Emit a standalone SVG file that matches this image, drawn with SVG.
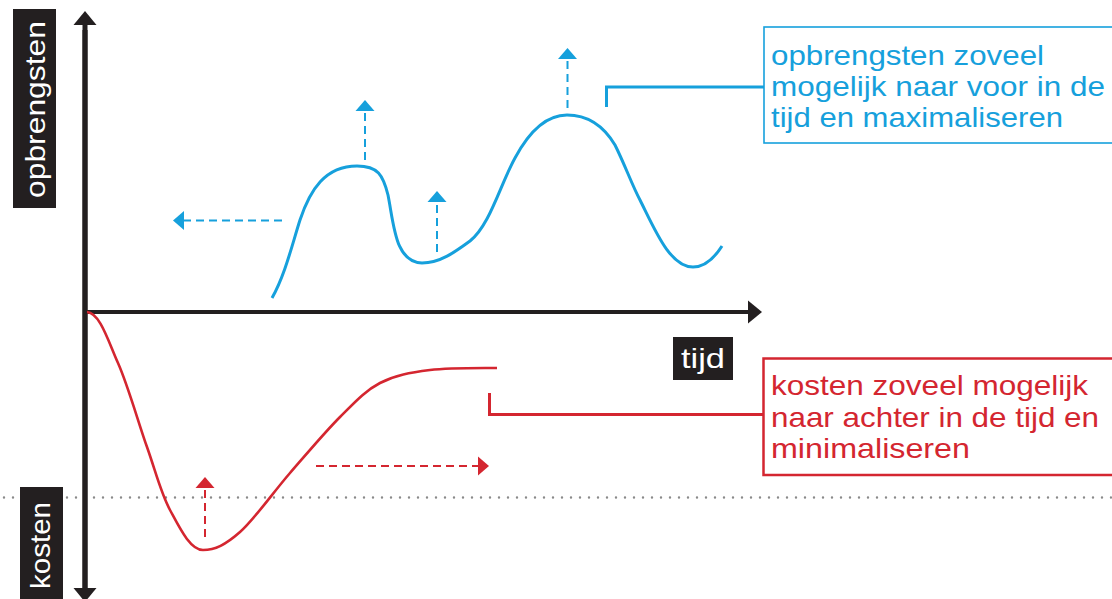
<svg xmlns="http://www.w3.org/2000/svg" width="1112" height="599" viewBox="0 0 1112 599">
<defs>
<style>
.blue{stroke:#16a0dc;fill:none}
.red{stroke:#d42630;fill:none}
.dash{stroke-width:2;stroke-dasharray:8 5}
.axis{stroke:#231f20;fill:none}
.lbl{font-family:"Liberation Sans",Arial,sans-serif;font-size:28.5px}
.tlabel{font-family:"Liberation Sans",Arial,sans-serif;font-size:28px;fill:#ffffff}
</style>
<marker id="ahB" viewBox="0 0 11 20" refX="0" refY="10" markerWidth="11" markerHeight="20" markerUnits="userSpaceOnUse" orient="auto"><path d="M0,0.5 L11,10 L0,19.5 z" fill="#16a0dc"/></marker>
<marker id="ahR" viewBox="0 0 11 20" refX="0" refY="10" markerWidth="11" markerHeight="20" markerUnits="userSpaceOnUse" orient="auto"><path d="M0,0.5 L11,10 L0,19.5 z" fill="#d42630"/></marker>
<marker id="ahK" viewBox="0 0 14 24" refX="0" refY="12" markerWidth="14" markerHeight="24" markerUnits="userSpaceOnUse" orient="auto"><path d="M0,0.5 L14,12 L0,23.5 z" fill="#231f20"/></marker>
</defs>
<rect width="1112" height="599" fill="#ffffff"/>

<!-- dotted reference line -->
<line x1="4" y1="497.5" x2="1112" y2="497.5" stroke="#8a8a8a" stroke-width="2.4" stroke-linecap="round" stroke-dasharray="0 9"/>

<g id="axis-y">
<line class="axis" x1="85" y1="588" x2="85" y2="25" stroke-width="5" marker-end="url(#ahK)"/>
<line class="axis" x1="85" y1="30" x2="85" y2="588" stroke-width="5" marker-end="url(#ahK)"/>
</g>
<g id="axis-x">
<line class="axis" x1="84" y1="312" x2="748" y2="312" stroke-width="4" marker-end="url(#ahK)"/>
</g>

<g id="label-opbrengsten">
<rect x="13" y="9" width="43" height="199" fill="#231f20"/>
<text class="tlabel" transform="translate(45,198) rotate(-90)" textLength="177" lengthAdjust="spacingAndGlyphs">opbrengsten</text>
</g>
<g id="label-kosten">
<rect x="20" y="487" width="43" height="112" fill="#231f20"/>
<text class="tlabel" transform="translate(50,589) rotate(-90)" textLength="87" lengthAdjust="spacingAndGlyphs">kosten</text>
</g>
<g id="label-tijd">
<rect x="673" y="337" width="60" height="43" fill="#231f20"/>
<text class="tlabel" x="681" y="368" textLength="44" lengthAdjust="spacingAndGlyphs">tijd</text>
</g>

<g id="curve-opbrengsten">
<path class="blue" stroke-width="3" d="M272,298 C285,275 292,245 300,220 C310,190 325,166 357,166 C378,166 383,175 388,195 C394,225 395,262 422,263 C440,263 455,252 470,241 C490,225 500,185 515,158 C530,130 548,115 567,115 C588,115 603,125 615,145 C625,165 632,185 640,200 C655,230 670,267 693,267 C706,267 715,257 722,246"/>
</g>
<g id="curve-kosten">
<path class="red" stroke-width="2.6" d="M87,312 C100,313 108,340.5 118,363 C128,385.5 138.3,422.5 147,447 C155.7,471.5 160.7,492.8 170,510 C179.3,527.2 190,550 203,550 C215,550 225.5,544.8 240,532 C254.5,519.2 273.3,492.2 290,473 C306.7,453.8 325,432 340,417 C355,402 365,390.8 380,383 C395,375.2 410.5,372.5 430,370 C449.5,367.5 486,368 497,368"/>
</g>

<g id="connectors">
<line class="blue dash" x1="282" y1="220.5" x2="184" y2="220.5" marker-end="url(#ahB)"/>
<line class="blue dash" x1="365" y1="160" x2="365" y2="111" marker-end="url(#ahB)"/>
<line class="blue dash" x1="437" y1="252" x2="437" y2="202" marker-end="url(#ahB)"/>
<line class="blue dash" x1="567.5" y1="108" x2="567.5" y2="59" marker-end="url(#ahB)"/>
<line class="red dash" x1="205" y1="537" x2="205" y2="488" marker-end="url(#ahR)"/>
<line class="red dash" x1="316" y1="466" x2="478" y2="466" marker-end="url(#ahR)"/>
<path class="blue" stroke-width="3" d="M764,87 H606.5 V107"/>
<path class="red" stroke-width="3" d="M763,414.5 H489.5 V393"/>
</g>

<g id="note-opbrengsten">
<rect x="764" y="27" width="360" height="116" fill="none" stroke="#16a0dc" stroke-width="1.6"/>
<text class="lbl" fill="#16a0dc" lengthAdjust="spacingAndGlyphs">
<tspan x="771" y="65" textLength="273" lengthAdjust="spacingAndGlyphs">opbrengsten zoveel</tspan>
<tspan x="771" y="96" textLength="334" lengthAdjust="spacingAndGlyphs">mogelijk naar voor in de</tspan>
<tspan x="771" y="127" textLength="292" lengthAdjust="spacingAndGlyphs">tijd en maximaliseren</tspan>
</text>
</g>
<g id="note-kosten">
<rect x="763.5" y="358.5" width="360" height="116.5" fill="none" stroke="#d42630" stroke-width="2.5"/>
<text class="lbl" fill="#d42630" lengthAdjust="spacingAndGlyphs">
<tspan x="771" y="395" textLength="317" lengthAdjust="spacingAndGlyphs">kosten zoveel mogelijk</tspan>
<tspan x="771" y="426.5" textLength="328" lengthAdjust="spacingAndGlyphs">naar achter in de tijd en</tspan>
<tspan x="771" y="458" textLength="199" lengthAdjust="spacingAndGlyphs">minimaliseren</tspan>
</text>
</g>
</svg>
